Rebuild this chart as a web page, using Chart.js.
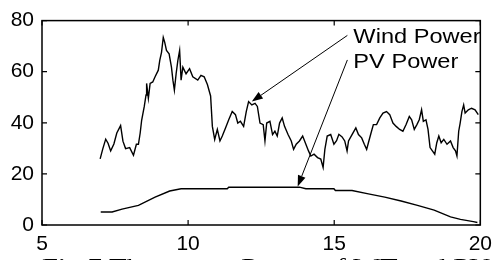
<!DOCTYPE html>
<html>
<head>
<meta charset="utf-8">
<script src="https://cdn.jsdelivr.net/npm/chart.js@4.4.0/dist/chart.umd.min.js"></script>
<style>
  html, body { margin: 0; padding: 0; background: #fff; }
  #wrap { width: 499px; height: 260px; position: relative; }
</style>
</head>
<body>
<div id="wrap"><canvas id="chart"></canvas></div>
<script>
/* Wind turbine output (hour, power) */
const windHours = [
    6.99, 7.08, 7.18, 7.26, 7.35, 7.46, 7.56, 7.69, 7.77, 7.86,
    8.00, 8.13, 8.23, 8.30, 8.36, 8.41, 8.50, 8.56, 8.58, 8.64,
    8.70, 8.79, 8.87, 8.98, 9.03, 9.09, 9.15, 9.20, 9.26, 9.35,
    9.43, 9.48, 9.53, 9.59, 9.65, 9.71, 9.76, 9.82, 9.93, 10.05,
    10.16, 10.33, 10.44, 10.55, 10.66, 10.77, 10.83, 10.91, 11.00, 11.09,
    11.17, 11.28, 11.39, 11.51, 11.62, 11.70, 11.79, 11.90, 11.99, 12.07,
    12.18, 12.29, 12.37, 12.46, 12.57, 12.63, 12.69, 12.80, 12.89, 12.97,
    13.05, 13.13, 13.22, 13.30, 13.42, 13.53, 13.61, 13.70, 13.81, 13.92,
    14.01, 14.12, 14.20, 14.31, 14.43, 14.54, 14.62, 14.68, 14.76, 14.88,
    14.99, 15.08, 15.16, 15.27, 15.36, 15.44, 15.49, 15.61, 15.74, 15.83,
    15.94, 16.03, 16.11, 16.17, 16.26, 16.34, 16.45, 16.56, 16.67, 16.79,
    16.90, 17.01, 17.12, 17.24, 17.35, 17.46, 17.57, 17.65, 17.74, 17.83,
    17.91, 17.99, 18.05, 18.14, 18.21, 18.28, 18.36, 18.44, 18.51, 18.58,
    18.66, 18.75, 18.86, 18.98, 19.07, 19.15, 19.20, 19.26, 19.31, 19.37,
    19.43, 19.48, 19.59, 19.70, 19.82, 19.93
];
const windPower = [
    25.9, 29.8, 33.6, 32.0, 29.0, 31.7, 36.0, 38.9, 32.8, 29.9,
    30.3, 27.3, 31.6, 31.6, 36.0, 41.0, 46.4, 50.9, 55.4, 49.6,
    55.4, 56.0, 58.0, 60.6, 64.4, 67.6, 73.4, 71.5, 68.3, 67.0,
    61.8, 56.7, 52.8, 59.2, 64.4, 68.3, 56.7, 61.8, 59.2, 61.2,
    58.0, 56.7, 58.6, 58.0, 55.0, 50.5, 38.6, 33.5, 37.4, 32.9,
    34.8, 38.0, 41.2, 44.4, 43.2, 39.9, 40.6, 38.6, 44.4, 48.3,
    47.0, 47.6, 46.4, 39.9, 39.3, 32.9, 39.9, 40.6, 35.4, 36.7,
    34.8, 39.9, 41.9, 38.6, 35.4, 32.9, 29.6, 31.6, 32.9, 34.8,
    32.2, 29.0, 27.0, 27.7, 26.4, 25.8, 22.5, 29.6, 34.8, 35.4,
    31.6, 33.0, 35.5, 34.5, 32.9, 29.0, 32.9, 35.4, 38.0, 35.4,
    34.1, 31.6, 29.6, 32.2, 36.0, 39.3, 39.3, 41.9, 43.8, 44.4,
    43.2, 39.9, 38.6, 37.4, 36.7, 39.3, 42.5, 41.2, 37.4, 39.3,
    41.2, 45.1, 40.6, 41.2, 37.4, 30.3, 29.0, 27.7, 32.2, 34.8,
    32.2, 33.5, 31.6, 32.9, 30.3, 29.0, 27.0, 36.7, 39.9, 44.4,
    47.0, 43.8, 45.1, 45.7, 45.1, 43.2
];

/* PV output (hour, power) */
const pvHours = [7.01, 7.40, 7.74, 8.30, 8.87, 9.37, 9.76, 11.34, 11.39, 13.81,
    14.03, 14.99, 15.04, 15.61, 16.17, 16.73, 17.29, 17.85, 18.42, 18.98,
    19.32, 19.76, 19.90];
const pvPower = [5.1, 5.1, 6.2, 7.7, 10.9, 13.3, 14.2, 14.2, 14.8, 14.8,
    14.2, 14.2, 13.5, 13.5, 12.2, 10.9, 9.4, 7.7, 5.8, 3.2,
    2.2, 1.3, 1.0];

const xTicks = [5, 10, 15, 20];
const yTicks = [0, 20, 40, 60, 80];

/* annotation labels: text, text anchor (data coords), arrow tip (data coords) */
const labelTexts = ['Wind Power', 'PV Power'];
const labelAnchor = [[15.45, 74.2], [15.45, 64.6]];
const arrowTips = [[12.18, 48.3], [13.75, 15.1]];

const caption = 'Fig.7 The output Power of WT and PV';

function toPoints(xs, ys) {
    return xs.map((x, i) => ({ x: x, y: ys[i] }));
}

/* frame, inward ticks, arrows and text drawn on top */
const decorPlugin = {
    id: 'decor',
    afterDraw(chart) {
        const ctx = chart.ctx;
        const a = chart.chartArea;
        const xs = chart.scales.x;
        const ys = chart.scales.y;
        ctx.save();
        ctx.strokeStyle = '#000';
        ctx.fillStyle = '#000';
        ctx.lineWidth = 1.5;
        ctx.strokeRect(a.left, a.top, a.right - a.left, a.bottom - a.top);

        /* matlab style inward ticks on all four sides */
        const tl = 5;
        ctx.lineWidth = 1.2;
        ctx.beginPath();
        xTicks.forEach(v => {
            const px = xs.getPixelForValue(v);
            ctx.moveTo(px, a.bottom); ctx.lineTo(px, a.bottom - tl);
            ctx.moveTo(px, a.top); ctx.lineTo(px, a.top + tl);
        });
        yTicks.forEach(v => {
            const py = ys.getPixelForValue(v);
            ctx.moveTo(a.left, py); ctx.lineTo(a.left + tl, py);
            ctx.moveTo(a.right, py); ctx.lineTo(a.right - tl, py);
        });
        ctx.stroke();

        /* arrows */
        ctx.lineWidth = 1;
        labelAnchor.forEach((p, i) => {
            const x0 = xs.getPixelForValue(p[0]);
            const y0 = ys.getPixelForValue(p[1]);
            const x1 = xs.getPixelForValue(arrowTips[i][0]);
            const y1 = ys.getPixelForValue(arrowTips[i][1]);
            const ang = Math.atan2(y1 - y0, x1 - x0);
            const len = 11, half = 4;
            const bx = x1 - len * Math.cos(ang);
            const by = y1 - len * Math.sin(ang);
            ctx.beginPath();
            ctx.moveTo(x0, y0);
            ctx.lineTo(bx, by);
            ctx.stroke();
            ctx.beginPath();
            ctx.moveTo(x1, y1);
            ctx.lineTo(bx + half * Math.sin(ang), by - half * Math.cos(ang));
            ctx.lineTo(bx - half * Math.sin(ang), by + half * Math.cos(ang));
            ctx.closePath();
            ctx.fill();
        });

        /* labels, slightly stretched like the source bitmap */
        ctx.font = '20px "Liberation Sans", Arial, sans-serif';
        ctx.textBaseline = 'alphabetic';
        labelTexts.forEach((t, i) => {
            const x0 = xs.getPixelForValue(labelAnchor[i][0]) + 6;
            const y0 = ys.getPixelForValue(labelAnchor[i][1]) + 8;
            ctx.save();
            ctx.translate(x0, y0);
            ctx.scale(1.18, 1);
            ctx.fillText(t, 0, 0);
            ctx.restore();
        });

        /* caption, cut off by the bottom edge */
        ctx.font = '22px "Liberation Serif", "Times New Roman", serif';
        const w = ctx.measureText(caption).width;
        ctx.save();
        ctx.translate(a.left, 273);
        ctx.scale(448 / w, 1);
        ctx.fillText(caption, 0, 0);
        ctx.restore();
        ctx.restore();
    }
};

const tickFont = { family: '"Liberation Sans", Arial, sans-serif', size: 21 };

new Chart(document.getElementById('chart'), {
    type: 'line',
    data: {
        datasets: [
            {
                label: 'Wind Power',
                data: toPoints(windHours, windPower),
                borderColor: '#000',
                borderWidth: 1.4,
                pointRadius: 0,
                tension: 0
            },
            {
                label: 'PV Power',
                data: toPoints(pvHours, pvPower),
                borderColor: '#000',
                borderWidth: 1.4,
                pointRadius: 0,
                tension: 0
            }
        ]
    },
    options: {
        responsive: true,
        maintainAspectRatio: false,
        animation: false,
        layout: { padding: { top: 17, right: 12, left: 0, bottom: 0 } },
        plugins: {
            legend: { display: false },
            tooltip: { enabled: false }
        },
        scales: {
            x: {
                type: 'linear',
                min: 5,
                max: 20,
                afterBuildTicks: s => { s.ticks = xTicks.map(v => ({ value: v })); },
                afterFit: s => { s.height = 35; },
                grid: { display: false, drawTicks: false },
                border: { display: false },
                ticks: { color: '#000', font: tickFont, padding: 7, maxRotation: 0 }
            },
            y: {
                min: 0,
                max: 80,
                afterBuildTicks: s => { s.ticks = yTicks.map(v => ({ value: v })); },
                afterFit: s => { s.width = 42; },
                grid: { display: false, drawTicks: false },
                border: { display: false },
                ticks: { color: '#000', font: tickFont, padding: 8 }
            }
        }
    },
    plugins: [decorPlugin]
});
</script>
</body>
</html>
